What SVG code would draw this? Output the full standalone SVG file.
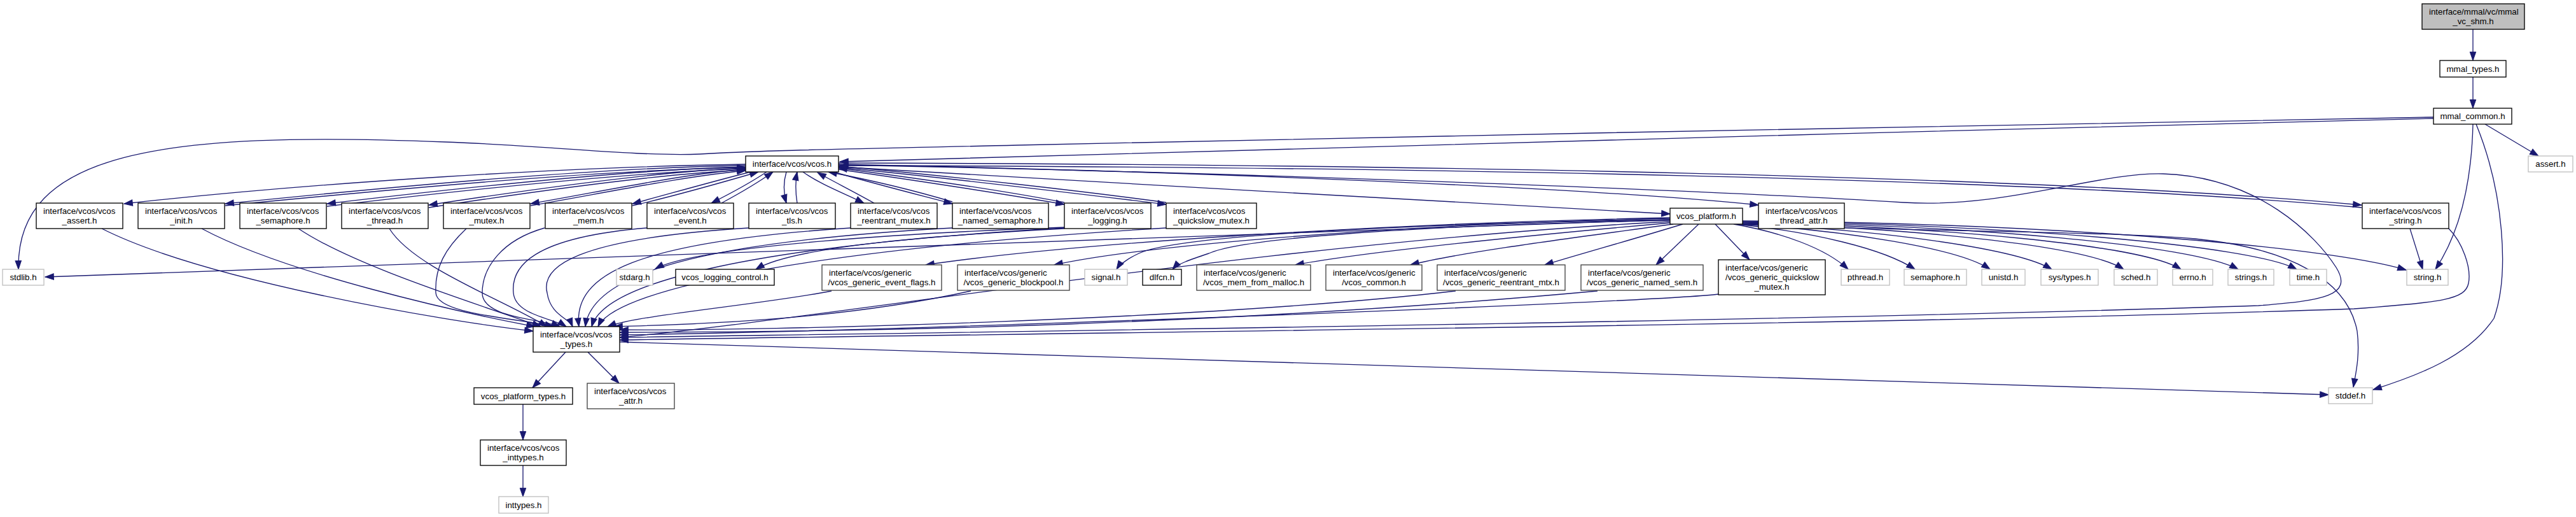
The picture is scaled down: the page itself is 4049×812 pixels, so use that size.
<svg xmlns="http://www.w3.org/2000/svg" width="4049" height="812" viewBox="0 0 4049 812">
<style>
.node rect{fill:#fff;stroke:#000;stroke-width:1.33}
.node.x rect{stroke:#bfbfbf}
.node.d rect{stroke:#404040}
.node.root rect{fill:#bfbfbf}
text{font-family:"Liberation Sans",Arial,sans-serif;font-size:13.33px;fill:#000}
.c{text-anchor:middle}
#edges path{fill:none;stroke:#191970;stroke-width:1.33;marker-end:url(#a)}
</style>
<defs>
<marker id="a" markerUnits="userSpaceOnUse" markerWidth="16" markerHeight="12" refX="13.3" refY="4.7" orient="auto" overflow="visible"><path d="M0,0 L13.3,4.7 L0,9.4 z" fill="#191970" stroke="#191970" stroke-width="1"/></marker>
</defs>
<rect width="4049" height="812" fill="#fff"/>
<g id="edges">
<path d="M3887,46 L3887,95"/>
<path d="M3887,121 L3887,170"/>
<path d="M3906,195 L3990,245"/>
<path d="M3825,186 C3000,204 2000,238 1320,254"/>
<path d="M3825,184 C3300,192 2300,213 1600,228 C1300,235 1200,236 1100,242 C1000,246 850,228 700,223 C250,205 25,240 29,423"/>
<path d="M1318,262 C1700,285 2300,318 2625,336"/>
<path d="M1318,256 C2200,258 3200,275 3712,322"/>
<path d="M3712,326 C3200,279 2200,262 1320,260"/>
<path d="M1318,258 C1900,270 2500,295 2764,322"/>
<path d="M1318,259 C2000,272 2700,300 2992,318 C3150,328 3300,270 3400,273 C3550,278 3640,370 3672,420 C3700,465 3650,472 3550,480 C2800,505 1500,522 974,530"/>
<path d="M2739,352 C2900,362 3300,362 3450,375 C3600,390 3690,440 3705,520 C3710,560 3702,590 3699,608"/>
<path d="M3849,359 C3870,380 3885,420 3880,445 C3875,470 3840,475 3700,485 C3000,510 1500,525 974,534"/>
<path d="M1172,258 C900,262 500,286 195,320"/>
<path d="M1172,260 C950,263 650,290 354,320"/>
<path d="M354,323 C650,294 950,267 1172,263"/>
<path d="M1172,262 C1000,266 750,292 514,320"/>
<path d="M514,324 C750,296 1000,270 1172,265"/>
<path d="M1172,264 C1050,268 850,295 674,322"/>
<path d="M674,326 C850,299 1050,272 1172,267"/>
<path d="M1172,266 C1080,272 950,300 834,320"/>
<path d="M834,323 C950,303 1080,276 1172,268"/>
<path d="M1180,270 C1120,285 1050,305 994,320"/>
<path d="M994,323 C1060,308 1130,288 1192,270"/>
<path d="M1205,270 C1175,290 1140,308 1118,319"/>
<path d="M1134,319 C1160,305 1190,288 1215,270"/>
<path d="M1236,270 C1230,290 1232,305 1236,319"/>
<path d="M1253,319 C1250,300 1250,285 1253,270"/>
<path d="M1262,270 C1290,290 1330,305 1358,319"/>
<path d="M1374,319 C1340,300 1310,285 1285,271"/>
<path d="M1310,270 C1380,290 1440,305 1497,320"/>
<path d="M1497,317 C1440,300 1380,285 1302,270"/>
<path d="M1318,266 C1450,285 1580,305 1673,321"/>
<path d="M1673,318 C1580,300 1450,281 1318,264"/>
<path d="M1318,263 C1500,280 1700,305 1833,321"/>
<path d="M1833,318 C1700,300 1500,277 1318,261"/>
<path d="M2625,345 L71,435"/>
<path d="M1673,357 C1450,365 1100,385 1030,422"/>
<path d="M1673,359 C1500,368 1250,385 1188,423"/>
<path d="M2625,342 C2200,350 1700,380 1455,416"/>
<path d="M2625,343 C2200,352 1800,385 1657,416"/>
<path d="M2625,345 C2200,352 1850,370 1790,398 C1775,405 1760,415 1755,423"/>
<path d="M2625,346 C2200,355 1950,375 1900,398 C1870,408 1850,415 1843,423"/>
<path d="M2625,350 C2400,370 2150,395 2036,416"/>
<path d="M2630,352 C2500,370 2300,395 2217,416"/>
<path d="M2645,352 C2570,375 2480,400 2428,416"/>
<path d="M2670,352 L2603,416"/>
<path d="M2696,352 L2750,408"/>
<path d="M2725,352 C2800,365 2870,390 2905,423"/>
<path d="M2730,352 C2850,365 2960,390 3010,423"/>
<path d="M2735,352 C2900,362 3080,390 3128,423"/>
<path d="M2737,352 C2950,360 3170,390 3225,423"/>
<path d="M2739,351 C3000,358 3280,385 3338,423"/>
<path d="M2739,350 C3050,356 3370,385 3428,423"/>
<path d="M2739,349 C3100,354 3450,385 3518,423"/>
<path d="M2739,348 C3150,352 3540,385 3610,423"/>
<path d="M2739,347 C3200,350 3650,385 3782,424"/>
<path d="M3788,359 L3808,423"/>
<path d="M3887,195 C3885,280 3870,360 3828,423"/>
<path d="M3892,195 C3935,300 3945,430 3920,500 C3880,560 3800,590 3730,612"/>
<path d="M974,537 L3660,620"/>
<path d="M889,553 L837,609"/>
<path d="M924,553 L973,602"/>
<path d="M822,635 L822,691"/>
<path d="M822,731 L822,780"/>
<path d="M160,359 C320,440 700,505 838,520"/>
<path d="M317,359 C450,430 720,490 841,513"/>
<path d="M469,359 C560,420 760,480 850,513"/>
<path d="M612,359 C650,420 790,470 860,513"/>
<path d="M733,359 C700,390 683,420 685,460 C687,495 820,500 870,513"/>
<path d="M856,358 C789,377 758,420 758,460 C758,500 850,500 880,513"/>
<path d="M1017,358 C834,373 803,420 807,460 C810,495 870,500 890,513"/>
<path d="M1177,358 C900,375 850,420 860,460 C865,495 895,500 900,513"/>
<path d="M1337,358 C1000,380 900,430 910,513"/>
<path d="M1497,358 C1100,380 930,430 920,513"/>
<path d="M1673,358 C1200,385 950,440 930,513"/>
<path d="M1833,358 C1300,390 970,450 940,513"/>
<path d="M1307,457 C1200,478 1000,495 955,513"/>
<path d="M1526,457 C1300,507 1050,510 965,513"/>
<path d="M2288,457 C1900,502 1200,520 974,518"/>
<path d="M2511,457 C1900,513 1300,522 974,522"/>
<path d="M2701,462 C2600,475 1400,520 974,526"/>
<path d="M2625,348 C2000,380 1300,500 974,530"/>
</g>
<g id="n_root" class="node root"><rect x="3807" y="6" width="161" height="40"/><text x="3818" y="22.5">interface/mmal/vc/mmal</text><text class="c" x="3887.5" y="37.8">_vc_shm.h</text></g>
<g id="n_mmal_types" class="node"><rect x="3835" y="95" width="104" height="26"/><text class="c" x="3887" y="112.5">mmal_types.h</text></g>
<g id="n_mmal_common" class="node"><rect x="3825" y="170" width="123" height="25"/><text class="c" x="3886.5" y="187">mmal_common.h</text></g>
<g id="n_assert" class="node x"><rect x="3974" y="245" width="70" height="25"/><text class="c" x="4009" y="262">assert.h</text></g>
<g id="n_vcos" class="node"><rect x="1172" y="245" width="146" height="25"/><text class="c" x="1245" y="262">interface/vcos/vcos.h</text></g>
<g id="n_vcos_assert" class="node"><rect x="57" y="319" width="136" height="40"/><text x="68" y="335.5">interface/vcos/vcos</text><text class="c" x="125" y="350.8">_assert.h</text></g>
<g id="n_vcos_init" class="node"><rect x="217" y="319" width="136" height="40"/><text x="228" y="335.5">interface/vcos/vcos</text><text class="c" x="285" y="350.8">_init.h</text></g>
<g id="n_vcos_semaphore" class="node"><rect x="377" y="319" width="136" height="40"/><text x="388" y="335.5">interface/vcos/vcos</text><text class="c" x="445" y="350.8">_semaphore.h</text></g>
<g id="n_vcos_thread" class="node"><rect x="537" y="319" width="136" height="40"/><text x="548" y="335.5">interface/vcos/vcos</text><text class="c" x="605" y="350.8">_thread.h</text></g>
<g id="n_vcos_mutex" class="node"><rect x="697" y="319" width="136" height="40"/><text x="708" y="335.5">interface/vcos/vcos</text><text class="c" x="765" y="350.8">_mutex.h</text></g>
<g id="n_vcos_mem" class="node"><rect x="857" y="319" width="136" height="40"/><text x="868" y="335.5">interface/vcos/vcos</text><text class="c" x="925" y="350.8">_mem.h</text></g>
<g id="n_vcos_event" class="node"><rect x="1017" y="319" width="136" height="40"/><text x="1028" y="335.5">interface/vcos/vcos</text><text class="c" x="1085" y="350.8">_event.h</text></g>
<g id="n_vcos_tls" class="node"><rect x="1177" y="319" width="136" height="40"/><text x="1188" y="335.5">interface/vcos/vcos</text><text class="c" x="1245" y="350.8">_tls.h</text></g>
<g id="n_vcos_reentrant_mutex" class="node"><rect x="1337" y="319" width="136" height="40"/><text x="1348" y="335.5">interface/vcos/vcos</text><text class="c" x="1405" y="350.8">_reentrant_mutex.h</text></g>
<g id="n_vcos_named_semaphore" class="node"><rect x="1497" y="319" width="151" height="40"/><text x="1508" y="335.5">interface/vcos/vcos</text><text class="c" x="1572.5" y="350.8">_named_semaphore.h</text></g>
<g id="n_vcos_logging" class="node"><rect x="1673" y="319" width="136" height="40"/><text x="1684" y="335.5">interface/vcos/vcos</text><text class="c" x="1741" y="350.8">_logging.h</text></g>
<g id="n_vcos_quickslow_mutex" class="node"><rect x="1833" y="319" width="142" height="40"/><text x="1844" y="335.5">interface/vcos/vcos</text><text class="c" x="1904" y="350.8">_quickslow_mutex.h</text></g>
<g id="n_vcos_platform" class="node"><rect x="2625" y="327" width="114" height="25"/><text class="c" x="2682" y="344">vcos_platform.h</text></g>
<g id="n_vcos_thread_attr" class="node"><rect x="2764" y="319" width="135" height="40"/><text x="2775" y="335.5">interface/vcos/vcos</text><text class="c" x="2831.5" y="350.8">_thread_attr.h</text></g>
<g id="n_vcos_string" class="node"><rect x="3713" y="319" width="136" height="40"/><text x="3724" y="335.5">interface/vcos/vcos</text><text class="c" x="3781" y="350.8">_string.h</text></g>
<g id="n_stdlib" class="node x"><rect x="4" y="423" width="65" height="25"/><text class="c" x="36.5" y="440">stdlib.h</text></g>
<g id="n_stdarg" class="node x"><rect x="969" y="423" width="57" height="25"/><text class="c" x="997.5" y="440">stdarg.h</text></g>
<g id="n_vcos_logging_control" class="node"><rect x="1062" y="423" width="155" height="25"/><text class="c" x="1139.5" y="440">vcos_logging_control.h</text></g>
<g id="n_gen_event_flags" class="node d"><rect x="1292" y="416" width="188" height="40"/><text x="1303" y="432.5">interface/vcos/generic</text><text class="c" x="1386" y="447.8">/vcos_generic_event_flags.h</text></g>
<g id="n_gen_blockpool" class="node d"><rect x="1505" y="416" width="176" height="40"/><text x="1516" y="432.5">interface/vcos/generic</text><text class="c" x="1593" y="447.8">/vcos_generic_blockpool.h</text></g>
<g id="n_signal" class="node x"><rect x="1705" y="423" width="67" height="25"/><text class="c" x="1738.5" y="440">signal.h</text></g>
<g id="n_dlfcn" class="node"><rect x="1796" y="423" width="61" height="25"/><text class="c" x="1826.5" y="440">dlfcn.h</text></g>
<g id="n_gen_mem_from_malloc" class="node d"><rect x="1881" y="416" width="179" height="40"/><text x="1892" y="432.5">interface/vcos/generic</text><text class="c" x="1970.5" y="447.8">/vcos_mem_from_malloc.h</text></g>
<g id="n_gen_common" class="node d"><rect x="2084" y="416" width="151" height="40"/><text x="2095" y="432.5">interface/vcos/generic</text><text class="c" x="2159.5" y="447.8">/vcos_common.h</text></g>
<g id="n_gen_reentrant_mtx" class="node d"><rect x="2259" y="416" width="201" height="40"/><text x="2270" y="432.5">interface/vcos/generic</text><text class="c" x="2359.5" y="447.8">/vcos_generic_reentrant_mtx.h</text></g>
<g id="n_gen_named_sem" class="node d"><rect x="2485" y="416" width="192" height="40"/><text x="2496" y="432.5">interface/vcos/generic</text><text class="c" x="2581" y="447.8">/vcos_generic_named_sem.h</text></g>
<g id="n_gen_quickslow" class="node"><rect x="2701" y="408" width="168" height="55"/><text x="2712" y="424.5">interface/vcos/generic</text><text x="2712" y="439.8">/vcos_generic_quickslow</text><text class="c" x="2785" y="455.1">_mutex.h</text></g>
<g id="n_pthread" class="node x"><rect x="2894" y="423" width="76" height="25"/><text class="c" x="2932" y="440">pthread.h</text></g>
<g id="n_semaphore" class="node x"><rect x="2993" y="423" width="98" height="25"/><text class="c" x="3042" y="440">semaphore.h</text></g>
<g id="n_unistd" class="node x"><rect x="3115" y="423" width="68" height="25"/><text class="c" x="3149" y="440">unistd.h</text></g>
<g id="n_systypes" class="node x"><rect x="3208" y="423" width="90" height="25"/><text class="c" x="3253" y="440">sys/types.h</text></g>
<g id="n_sched" class="node x"><rect x="3323" y="423" width="68" height="25"/><text class="c" x="3357" y="440">sched.h</text></g>
<g id="n_errno" class="node x"><rect x="3415" y="423" width="63" height="25"/><text class="c" x="3446.5" y="440">errno.h</text></g>
<g id="n_strings" class="node x"><rect x="3502" y="423" width="72" height="25"/><text class="c" x="3538" y="440">strings.h</text></g>
<g id="n_time" class="node x"><rect x="3599" y="423" width="58" height="25"/><text class="c" x="3628" y="440">time.h</text></g>
<g id="n_string" class="node x"><rect x="3783" y="423" width="65" height="25"/><text class="c" x="3815.5" y="440">string.h</text></g>
<g id="n_vcos_types" class="node"><rect x="838" y="513" width="136" height="40"/><text x="849" y="529.5">interface/vcos/vcos</text><text class="c" x="906" y="544.8">_types.h</text></g>
<g id="n_vcos_platform_types" class="node"><rect x="745" y="609" width="155" height="26"/><text class="c" x="822.5" y="626.5">vcos_platform_types.h</text></g>
<g id="n_vcos_attr" class="node d"><rect x="923" y="602" width="137" height="40"/><text x="934" y="618.5">interface/vcos/vcos</text><text class="c" x="991.5" y="633.8">_attr.h</text></g>
<g id="n_stddef" class="node x"><rect x="3660" y="609" width="69" height="25"/><text class="c" x="3694.5" y="626">stddef.h</text></g>
<g id="n_vcos_inttypes" class="node"><rect x="755" y="691" width="135" height="40"/><text x="766" y="707.5">interface/vcos/vcos</text><text class="c" x="822.5" y="722.8">_inttypes.h</text></g>
<g id="n_inttypes" class="node x"><rect x="784" y="780" width="78" height="26"/><text class="c" x="823" y="797.5">inttypes.h</text></g>
</svg>
